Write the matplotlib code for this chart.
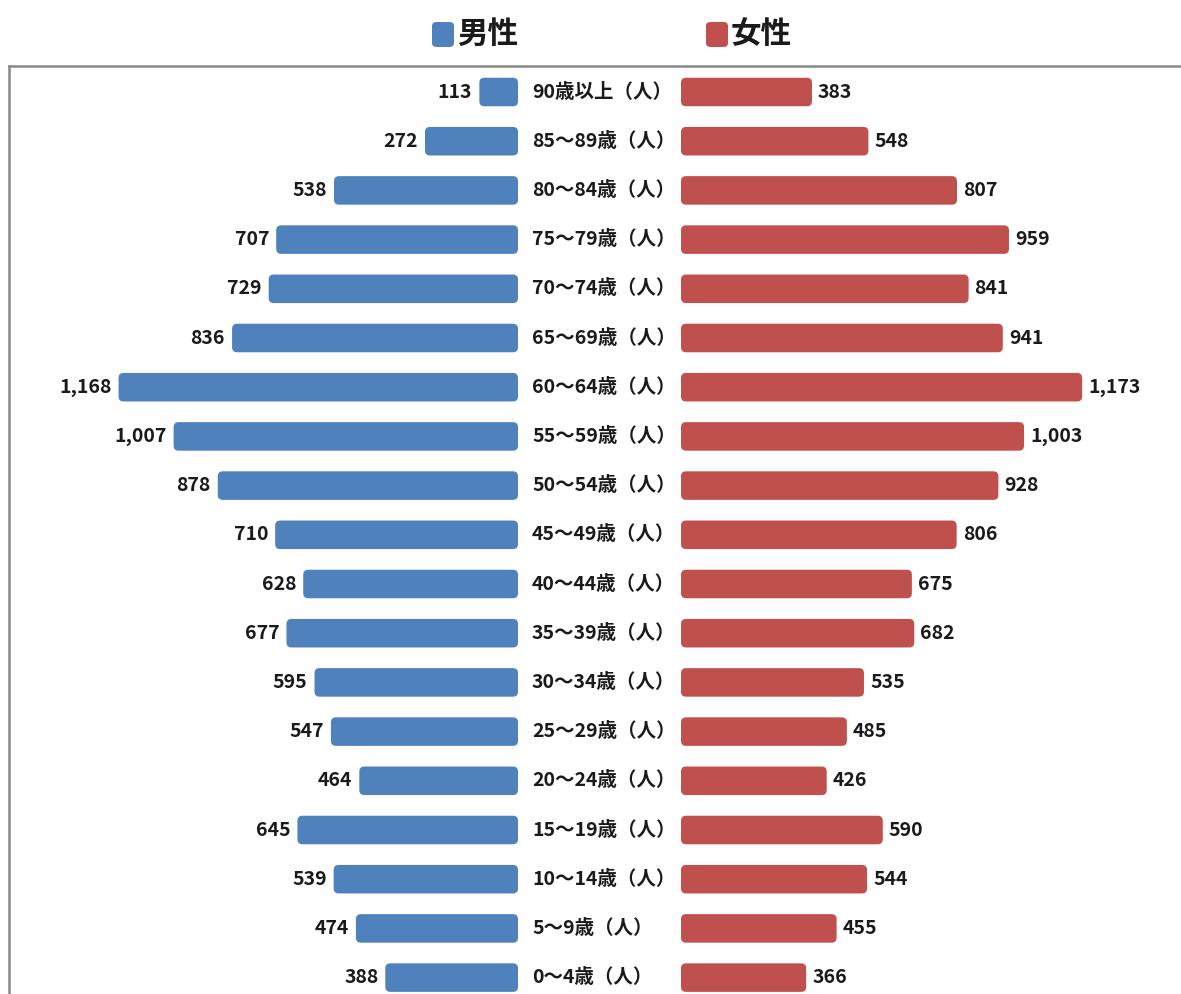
import matplotlib
matplotlib.use("Agg")
import matplotlib.pyplot as plt
from matplotlib.lines import Line2D
from matplotlib.patches import FancyBboxPatch

plt.rcParams['font.family'] = ['Noto Sans CJK JP', 'DejaVu Sans']

# 年齢階級（上から）
age_groups = ["90歳以上（人）", "85～89歳（人）", "80～84歳（人）", "75～79歳（人）",
              "70～74歳（人）", "65～69歳（人）", "60～64歳（人）", "55～59歳（人）",
              "50～54歳（人）", "45～49歳（人）", "40～44歳（人）", "35～39歳（人）",
              "30～34歳（人）", "25～29歳（人）", "20～24歳（人）", "15～19歳（人）",
              "10～14歳（人）", "5～9歳（人）", "0～4歳（人）"]
male = [113, 272, 538, 707, 729, 836, 1168, 1007, 878, 710,
        628, 677, 595, 547, 464, 645, 539, 474, 388]
female = [383, 548, 807, 959, 841, 941, 1173, 1003, 928, 806,
          675, 682, 535, 485, 426, 590, 544, 455, 366]

blue = "#4F81BD"
red = "#C0504D"
txt = "#1a1a1a"

fig = plt.figure(figsize=(11.81, 9.94), dpi=100)
ax = fig.add_axes([0, 0, 1, 1])

# 中央のラベル用の余白（データ単位）
ppu = 0.342  # 1人あたりのピクセル数
male_base = -(600 - 518) / ppu
female_base = (681 - 600) / ppu
ax.set_xlim(-600 / ppu, (1181 - 600) / ppu)
ax.set_ylim((994 - 92) / 49.2, -92 / 49.2)
ax.axis("off")

rows = list(range(len(age_groups)))
bh = 0.58
r = 5 / ppu
aspect = (1 / 49.2) / (1 / ppu)

for i in rows:
    m, f = male[i], female[i]
    for x0, w, c in [(male_base - m, m, blue), (female_base, f, red)]:
        p = FancyBboxPatch((x0, i - bh / 2), w, bh,
                           boxstyle=f"round,pad=0,rounding_size={r}",
                           mutation_aspect=aspect, facecolor=c, edgecolor="none")
        ax.add_patch(p)
    ax.text(male_base - m - 7 / ppu, i, f"{m:,}", ha="right", va="center",
            fontsize=14, fontweight="bold", color=txt)
    ax.text(female_base + f + 6 / ppu, i, f"{f:,}", ha="left", va="center",
            fontsize=14, fontweight="bold", color=txt)
    ax.text(-68 / ppu, i, age_groups[i], ha="left", va="center",
            fontsize=14, fontweight="bold", color=txt)

# 枠線
fig.add_artist(Line2D([9 / 1181, 1], [1 - 66 / 994] * 2, color="#888888", lw=1.8))
fig.add_artist(Line2D([9 / 1181] * 2, [0, 1 - 66 / 994], color="#888888", lw=1.8))

# 凡例
for sx, col, lab in [(432, blue, "男性"), (706, red, "女性")]:
    sq = FancyBboxPatch((sx / 1181, 1 - 47 / 994), 22 / 1181, 25 / 994,
                        boxstyle="round,pad=0,rounding_size=0.004",
                        transform=fig.transFigure, facecolor=col, edgecolor="none")
    fig.add_artist(sq)
    fig.text((sx + 25) / 1181, 1 - 34 / 994, lab, ha="left", va="center",
             fontsize=22, fontweight="bold", color=txt)

fig.savefig("out.png", dpi=100)
